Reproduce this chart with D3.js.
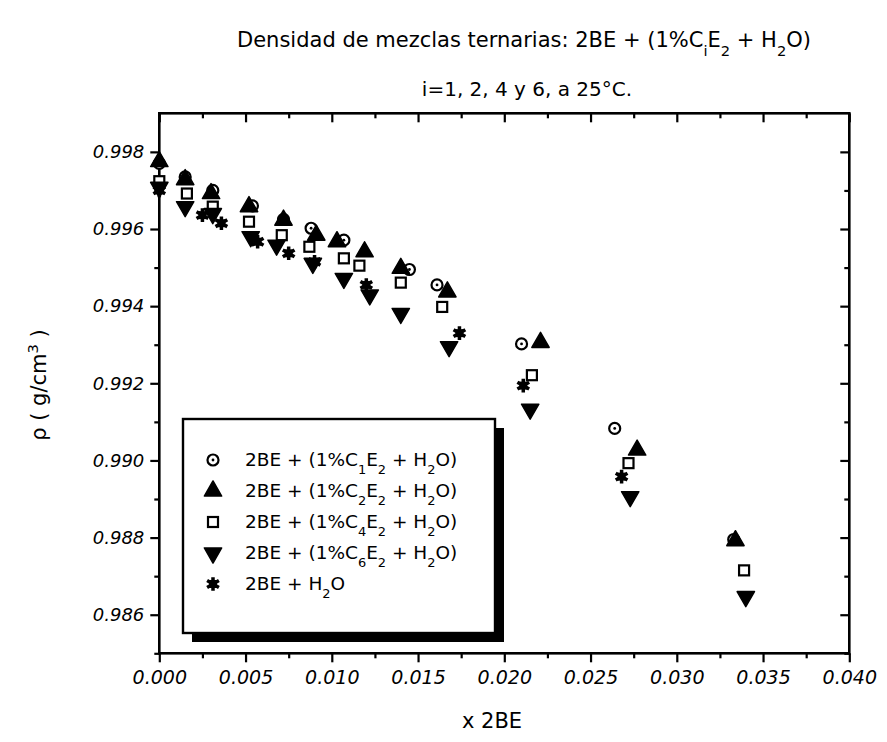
<!DOCTYPE html>
<html><head><meta charset="utf-8">
<script src="https://cdn.jsdelivr.net/npm/d3@7"></script>
<style>body{margin:0;background:#fff}text{font-family:"DejaVu Sans",sans-serif;fill:#000}</style>
</head><body>
<svg id="c" width="887" height="742"></svg>
<script>
// ---- data ----
const xTicks = [0.000,0.005,0.010,0.015,0.020,0.025,0.030,0.035,0.040];
const xMinor = [0.0025,0.0075,0.0125,0.0175,0.0225,0.0275,0.0325,0.0375];
const yTicks = [0.986,0.988,0.990,0.992,0.994,0.996,0.998];
const yMinor = [0.985,0.987,0.989,0.991,0.993,0.995,0.997];
const seriesLabels = [
  "2BE + (1%C{1}E{2} + H{2}O)",
  "2BE + (1%C{2}E{2} + H{2}O)",
  "2BE + (1%C{4}E{2} + H{2}O)",
  "2BE + (1%C{6}E{2} + H{2}O)",
  "2BE + H{2}O"
];
const seriesSymbols = ["circle","up","square","down","star"];

const c1X = [0.0000,0.0015,0.0031,0.0054,0.0072,0.0088,0.0107,0.0145,0.0161,0.0210,0.0264,0.0333];
const c1Y = [0.99770,0.99735,0.99700,0.99660,0.99625,0.99602,0.99571,0.99495,0.99455,0.99302,0.99083,0.98795];

const c2X = [0.0000,0.0015,0.0030,0.0052,0.0072,0.0091,0.0103,0.0119,0.0140,0.0167,0.0221,0.0277,0.0334];
const c2Y = [0.99775,0.99728,0.99692,0.99658,0.99623,0.99584,0.99567,0.99541,0.99498,0.99437,0.99306,0.99027,0.98792];

const c4X = [0.0000,0.0016,0.0031,0.0052,0.0071,0.0087,0.0107,0.0116,0.0140,0.0164,0.0216,0.0272,0.0339];
const c4Y = [0.99724,0.99692,0.99658,0.99619,0.99584,0.99554,0.99524,0.99505,0.99461,0.99398,0.99221,0.98993,0.98715];

const c6X = [0.0000,0.0015,0.0031,0.0053,0.0068,0.0089,0.0107,0.0122,0.0140,0.0168,0.0215,0.0273,0.0340];
const c6Y = [0.99708,0.99658,0.99640,0.99580,0.99558,0.99511,0.99472,0.99429,0.99381,0.99295,0.99133,0.98906,0.98647];

const wX = [0.0000,0.0025,0.0036,0.0057,0.0075,0.0090,0.0120,0.0174,0.0211,0.0268];
const wY = [0.99700,0.99636,0.99615,0.99567,0.99537,0.99515,0.99455,0.99330,0.99194,0.98958];

const seriesX = [c1X,c2X,c4X,c6X,wX];
const seriesY = [c1Y,c2Y,c4Y,c6Y,wY];

// ---- drawing ----
const svg = d3.select("#c");
const x = d3.scaleLinear().domain([0,0.040]).range([159.3,849.3]);
const y = d3.scaleLinear().domain([0.985,0.999]).range([653.3,113.3]);

function richText(sel, str){
  // {..} = subscript, ^{..} = superscript
  const re = /(\^?)\{([^}]*)\}|([^{^]+)/g; let m;
  while((m = re.exec(str))){
    if(m[3]!==undefined){ sel.append("tspan").text(m[3]); }
    else if(m[1]==="^"){
      sel.append("tspan").attr("baseline-shift","super").attr("font-size","70%").text(m[2]);
    } else {
      sel.append("tspan").attr("baseline-shift","sub").attr("font-size","70%").text(m[2]);
    }
  }
}

// titles
const t1 = svg.append("text").attr("x",524).attr("y",47).attr("text-anchor","middle").attr("font-size",21);
richText(t1,"Densidad de mezclas ternarias: 2BE + (1%C{i}E{2} + H{2}O)");
svg.append("text").attr("x",527).attr("y",96).attr("text-anchor","middle").attr("font-size",20)
  .text("i=1, 2, 4 y 6, a 25°C.");

// axes
const g = svg.append("g");
const axStyle = a => { a.select(".domain").remove(); a.selectAll("line").attr("stroke","#000").attr("stroke-width",2.2); };
g.append("g").attr("transform",`translate(0,${y(0.985)})`)
  .call(d3.axisBottom(x).tickValues(xTicks).tickSize(9).tickPadding(8).tickFormat(d3.format(".3f")))
  .call(axStyle).selectAll("text").attr("font-size",19).attr("font-style","italic").attr("font-family","DejaVu Sans");
g.append("g").attr("transform",`translate(0,${y(0.985)})`)
  .call(d3.axisBottom(x).tickValues(xMinor).tickSize(5).tickFormat("")).call(axStyle);
g.append("g").attr("transform",`translate(0,${y(0.999)})`)
  .call(d3.axisTop(x).tickValues(xTicks).tickSize(-9).tickFormat("")).call(axStyle);
g.append("g").attr("transform",`translate(0,${y(0.999)})`)
  .call(d3.axisTop(x).tickValues(xMinor).tickSize(-5).tickFormat("")).call(axStyle);
g.append("g").attr("transform",`translate(${x(0)},0)`)
  .call(d3.axisLeft(y).tickValues(yTicks).tickSize(9).tickPadding(6).tickFormat(d3.format(".3f")))
  .call(axStyle).selectAll("text").attr("font-size",18).attr("font-style","italic").attr("font-family","DejaVu Sans");
g.append("g").attr("transform",`translate(${x(0)},0)`)
  .call(d3.axisLeft(y).tickValues(yMinor).tickSize(5).tickFormat("")).call(axStyle);
g.append("g").attr("transform",`translate(${x(0.040)},0)`)
  .call(d3.axisRight(y).tickValues(yTicks).tickSize(-9).tickFormat("")).call(axStyle);
g.append("g").attr("transform",`translate(${x(0.040)},0)`)
  .call(d3.axisRight(y).tickValues(yMinor).tickSize(-5).tickFormat("")).call(axStyle);

svg.append("rect").attr("x",x(0)).attr("y",y(0.999)).attr("width",x(0.040)-x(0)).attr("height",y(0.985)-y(0.999))
  .attr("fill","none").attr("stroke","#000").attr("stroke-width",2.6);

// axis titles
svg.append("text").attr("x",492).attr("y",728).attr("text-anchor","middle").attr("font-size",21).text("x 2BE");
const yl = svg.append("text").attr("transform","translate(46,385) rotate(-90)").attr("text-anchor","middle").attr("font-size",21);
richText(yl,"\u03c1 ( g/cm^{3} )");

// symbols
function drawSymbol(sel, type, cx, cy){
  const gg = sel.append("g").attr("transform",`translate(${cx},${cy})`);
  if(type==="circle"){
    gg.append("circle").attr("r",5.5).attr("fill","#fff").attr("stroke","#000").attr("stroke-width",2.2);
    gg.append("circle").attr("r",1.4).attr("fill","#000");
  } else if(type==="up"){
    gg.append("path").attr("d",d3.symbol(d3.symbolTriangle,130)()).attr("fill","#000").attr("stroke","#000").attr("stroke-width",1.5).attr("stroke-linejoin","round");
  } else if(type==="down"){
    gg.append("path").attr("d",d3.symbol(d3.symbolTriangle,130)()).attr("transform","rotate(180)").attr("fill","#000").attr("stroke","#000").attr("stroke-width",1.5).attr("stroke-linejoin","round");
  } else if(type==="square"){
    gg.append("rect").attr("x",-5).attr("y",-5).attr("width",10).attr("height",10).attr("fill","#fff").attr("stroke","#000").attr("stroke-width",2.2);
  } else if(type==="star"){
    gg.append("path").attr("d",d3.symbol(d3.symbolAsterisk,130)()).attr("fill","none").attr("stroke","#000").attr("stroke-width",3.5);
    gg.append("rect").attr("x",-4).attr("y",-4).attr("width",8).attr("height",8).attr("fill","#000");
  }
}

const order = [0,2,4,3,1];
const marks = svg.append("g");
order.forEach(si=>{
  seriesX[si].forEach((vx,i)=> drawSymbol(marks, seriesSymbols[si], x(vx), y(seriesY[si][i])));
});

// legend
const lg = svg.append("g");
lg.append("rect").attr("x",192).attr("y",428).attr("width",312).attr("height",214).attr("fill","#000");
lg.append("rect").attr("x",183).attr("y",419).attr("width",312).attr("height",214).attr("fill","#fff").attr("stroke","#000").attr("stroke-width",2.4);
const rowY = [460,491,522,553,584];
seriesLabels.forEach((lab,i)=>{
  drawSymbol(lg, seriesSymbols[i], 213, rowY[i]);
  const t = lg.append("text").attr("x",245).attr("y",rowY[i]+6).attr("font-size",18.5);
  richText(t, lab);
});
</script>
</body></html>
